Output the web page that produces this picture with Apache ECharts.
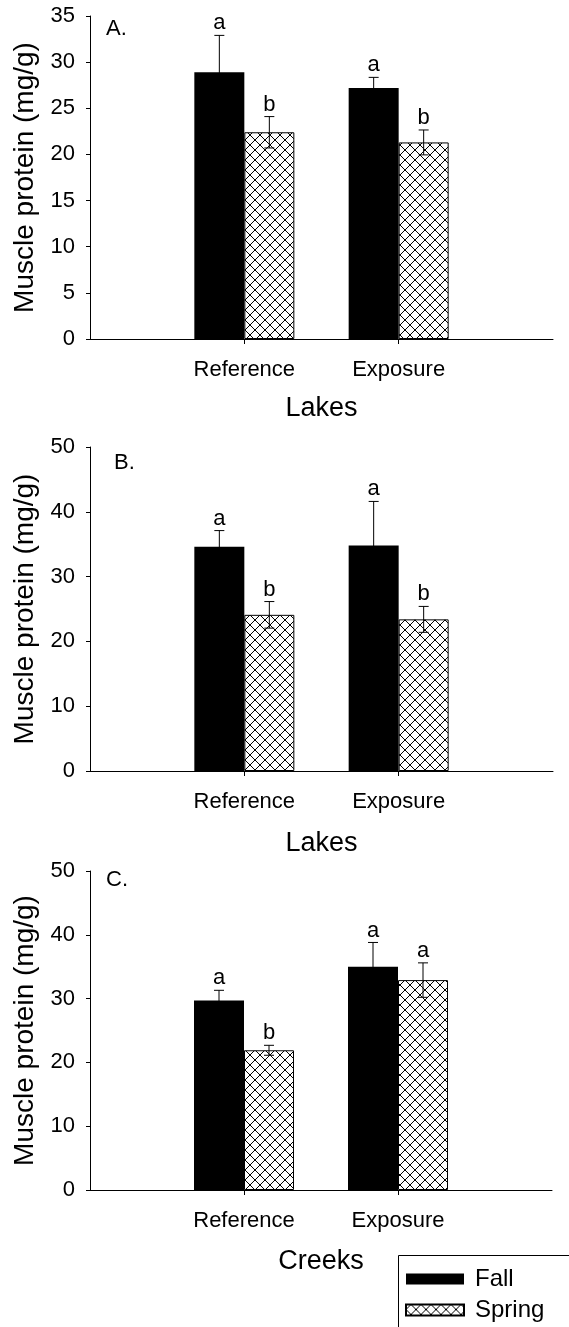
<!DOCTYPE html>
<html>
<head>
<meta charset="utf-8">
<script src="https://cdn.jsdelivr.net/npm/echarts@6/dist/echarts.min.js"></script>
<style>
html,body{margin:0;padding:0;background:#fff;}
#c{width:569px;height:1327px;}
</style>
</head>
<body>
<div id="c"></div>
<script>
// ---- data ----
const categories = ['Reference', 'Exposure'];
const seriesNames = ['Fall', 'Spring'];
const xNames = ['Lakes', 'Lakes', 'Creeks'];
const panelLabels = ['A.', 'B.', 'C.'];
const yMax = [35, 50, 50];
const yInterval = [5, 10, 10];

const fallA = [28.9, 27.2];
const springA = [22.4, 21.3];
const fallErrA = [4.0, 1.15];
const springErrA = [1.7, 1.35];
const fallLettersA = ['a', 'a'];
const springLettersA = ['b', 'b'];

const fallB = [34.6, 34.8];
const springB = [24.1, 23.4];
const fallErrB = [2.5, 6.8];
const springErrB = [2.05, 2.0];
const fallLettersB = ['a', 'a'];
const springLettersB = ['b', 'b'];

const fallC = [29.7, 35.0];
const springC = [21.9, 32.9];
const fallErrC = [1.6, 3.8];
const springErrC = [0.78, 2.7];
const fallLettersC = ['a', 'a'];
const springLettersC = ['b', 'a'];

// ---- styling ----
const FONT = "'Liberation Sans', Arial, sans-serif";
const BAR_W = 50;
const grids = [
  {left: 90, right: 16, top: 16, height: 323},
  {left: 90, right: 16, top: 447, height: 324},
  {left: 90, right: 17, top: 871, height: 319}
];
const xNameGaps = [56, 59, 58];

// crosshatch pattern
const pc = document.createElement('canvas');
pc.width = 10; pc.height = 10;
const g = pc.getContext('2d');
g.fillStyle = '#fff'; g.fillRect(0, 0, 10, 10);
g.strokeStyle = '#000'; g.lineWidth = 1;
g.beginPath();
g.moveTo(0, 5); g.lineTo(5, 0); g.lineTo(10, 5); g.lineTo(5, 10); g.closePath();
g.stroke();
const hatch = {image: pc, repeat: 'repeat'};

const xCats = [''].concat(categories, ['']);
const pad = arr => [null].concat(arr, [null]);

const panels = [
  {fall: fallA, spring: springA, fe: fallErrA, se: springErrA, fl: fallLettersA, sl: springLettersA},
  {fall: fallB, spring: springB, fe: fallErrB, se: springErrB, fl: fallLettersB, sl: springLettersB},
  {fall: fallC, spring: springC, fe: fallErrC, se: springErrC, fl: fallLettersC, sl: springLettersC}
];

const xAxis = [], yAxis = [], series = [], graphic = [];
panels.forEach((p, k) => {
  xAxis.push({
    type: 'category', gridIndex: k, data: xCats, boundaryGap: false,
    axisLine: {lineStyle: {color: '#000', width: 1}},
    axisTick: {show: true, length: 5, interval: (i) => i === 1 || i === 2, lineStyle: {color: '#000'}},
    axisLabel: {interval: 0, color: '#000', fontSize: 22, fontFamily: FONT, margin: 20},
    name: xNames[k], nameLocation: 'middle', nameGap: xNameGaps[k],
    nameTextStyle: {color: '#000', fontSize: 27, fontFamily: FONT}
  });
  yAxis.push({
    type: 'value', gridIndex: k, min: 0, max: yMax[k], interval: yInterval[k],
    axisLine: {show: true, lineStyle: {color: '#000', width: 1}},
    axisTick: {show: true, length: 4, lineStyle: {color: '#000'}},
    splitLine: {show: false},
    axisLabel: {color: '#000', fontSize: 22, fontFamily: FONT, margin: 15},
    name: 'Muscle protein (mg/g)', nameLocation: 'middle', nameGap: 48, nameRotate: 90,
    nameTextStyle: {color: '#000', fontSize: 28, fontFamily: FONT}
  });
  series.push({
    name: seriesNames[0], type: 'bar', xAxisIndex: k, yAxisIndex: k,
    data: pad(p.fall), barWidth: BAR_W, barGap: '0%',
    itemStyle: {color: '#000'}, z: 2
  });
  series.push({
    name: seriesNames[1], type: 'bar', xAxisIndex: k, yAxisIndex: k,
    data: pad(p.spring), barWidth: BAR_W, barGap: '0%',
    itemStyle: {color: hatch, borderColor: '#000', borderWidth: 1}, z: 2
  });
  // error bars + significance letters
  const eData = [], eLetters = [];
  categories.forEach((c, i) => {
    eData.push([i + 1, p.fall[i], p.fe[i], -1]); eLetters.push(p.fl[i]);
    eData.push([i + 1, p.spring[i], p.se[i], 1]); eLetters.push(p.sl[i]);
  });
  series.push({
    type: 'custom', xAxisIndex: k, yAxisIndex: k, z: 5, silent: true,
    data: eData,
    renderItem: function (params, api) {
      const ci = api.value(0), v = api.value(1), e = api.value(2), s = api.value(3);
      const top = api.coord([ci, v + e]);
      const bot = api.coord([ci, v - e]);
      const x = top[0] + s * BAR_W / 2;
      const cap = 5;
      const ls = {stroke: '#000', lineWidth: 1};
      return {
        type: 'group',
        children: [
          {type: 'line', shape: {x1: x, y1: top[1], x2: x, y2: bot[1]}, style: ls},
          {type: 'line', shape: {x1: x - cap, y1: top[1], x2: x + cap, y2: top[1]}, style: ls},
          {type: 'line', shape: {x1: x - cap, y1: bot[1], x2: x + cap, y2: bot[1]}, style: ls},
          {type: 'text', style: {text: eLetters[params.dataIndex], x: x, y: top[1] - 1,
            align: 'center', verticalAlign: 'bottom', fill: '#000', font: '22px ' + FONT}}
        ]
      };
    }
  });
});

const labelPos = [[106, 29], [114, 463], [106, 880]];
panelLabels.forEach((t, k) => {
  graphic.push({type: 'text', x: labelPos[k][0], y: labelPos[k][1],
    style: {text: t, fill: '#000', font: '22px ' + FONT, verticalAlign: 'middle'}});
});
graphic.push({type: 'rect', z: 0, shape: {x: 398.5, y: 1255.5, width: 300, height: 200},
  style: {fill: '#fff', stroke: '#000', lineWidth: 1}});

const chart = echarts.init(document.getElementById('c'), null, {renderer: 'canvas'});
chart.setOption({
  animation: false,
  backgroundColor: '#fff',
  grid: grids,
  xAxis: xAxis,
  yAxis: yAxis,
  series: series,
  graphic: graphic,
  legend: {
    data: seriesNames, orient: 'vertical', left: 405, top: 1267,
    itemWidth: 58, itemHeight: 11, itemGap: 7, icon: 'rect', padding: 0,
    textStyle: {color: '#000', fontSize: 24, fontFamily: FONT, padding: [0, 0, 0, 6]},
    z: 10
  }
});
</script>
</body>
</html>
